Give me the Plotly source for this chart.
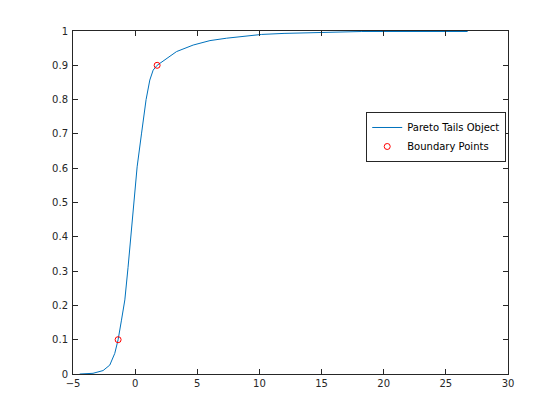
import plotly.graph_objects as go

cdf_x = [-4.46, -3.39, -2.58, -2.04, -1.64, -1.37, -1.10, -0.83, -0.57, -0.33,
         -0.05, 0.16, 0.51, 0.67, 0.88, 1.18, 1.45, 1.77, 2.53, 3.33,
         4.67, 6.02, 7.36, 8.70, 9.40, 10.18, 11.98, 14.48, 18.24, 26.75]
cdf_y = [0.0, 0.002, 0.01, 0.026, 0.06, 0.10, 0.157, 0.216, 0.311, 0.41,
         0.507, 0.604, 0.70, 0.75, 0.80, 0.857, 0.886, 0.90, 0.92, 0.94,
         0.959, 0.972, 0.979, 0.984, 0.987, 0.990, 0.993, 0.996, 0.9985, 0.9985]

boundary_x = [-1.37, 1.77]
boundary_y = [0.10, 0.90]

x_ticks = [-5, 0, 5, 10, 15, 20, 25, 30]
y_ticks = [0, 0.1, 0.2, 0.3, 0.4, 0.5, 0.6, 0.7, 0.8, 0.9, 1]

FONT = "DejaVu Sans, Liberation Sans, Arial"

fig = go.Figure()
fig.add_trace(go.Scatter(x=cdf_x, y=cdf_y, mode="lines",
                         line=dict(color="#0072BD", width=1),
                         name="Pareto Tails Object"))
fig.add_trace(go.Scatter(x=boundary_x, y=boundary_y, mode="markers",
                         marker=dict(symbol="circle-open", size=6, color="#FF0000",
                                     line=dict(width=1, color="#FF0000")),
                         name="Boundary Points"))

axis_common = dict(showgrid=False, zeroline=False, showline=True, linecolor="#262626",
                   linewidth=1, mirror="allticks", ticks="inside", ticklen=5,
                   tickcolor="#262626", tickfont=dict(family=FONT, size=10, color="#262626"))

fig.update_layout(
    width=560, height=420,
    paper_bgcolor="white", plot_bgcolor="white",
    margin=dict(l=65, r=60, t=23, b=54),
    xaxis=dict(range=[-5, 30], tickvals=x_ticks, **axis_common),
    yaxis=dict(range=[0, 1], tickvals=y_ticks, ticklabelstandoff=2, **axis_common),
    legend=dict(x=0.835, y=0.691, xanchor="center", yanchor="middle",
                bgcolor="white", bordercolor="#262626", borderwidth=1,
                font=dict(family=FONT, size=10, color="black"),
                tracegroupgap=0, itemwidth=30),
    showlegend=True,
)

fig.write_html("out.html")
